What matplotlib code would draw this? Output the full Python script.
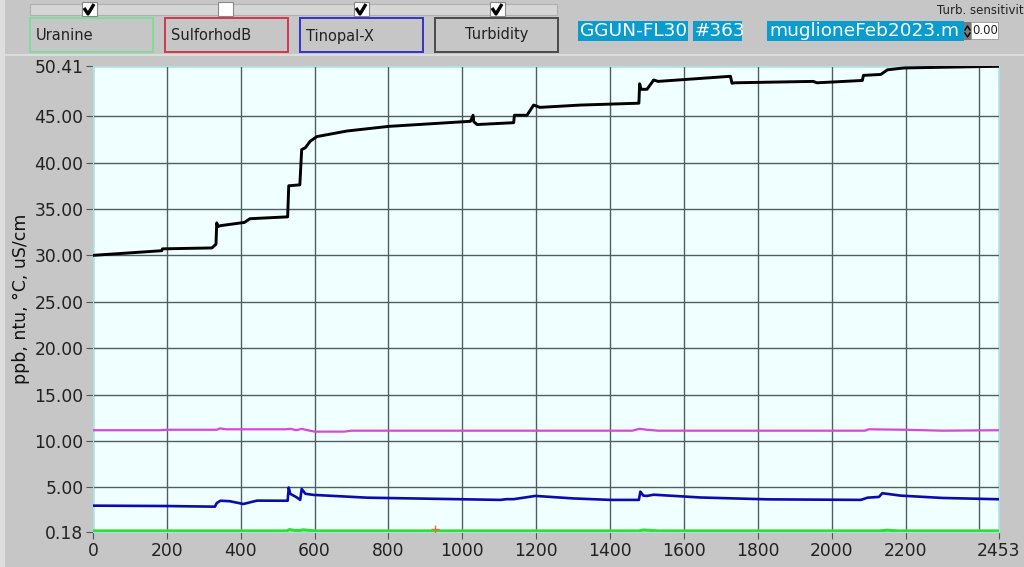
import matplotlib
matplotlib.use("Agg")
import matplotlib.pyplot as plt
from matplotlib.patches import Rectangle

# data
cond_x = [0, 186, 188, 322, 333, 335, 338, 345, 410, 425, 527, 530, 560, 565, 575, 588, 606,
          687, 800, 1022, 1029, 1031, 1040, 1139, 1141, 1175, 1193, 1210, 1320, 1478, 1480,
          1484, 1500, 1518, 1530, 1726, 1730, 1738, 1950, 1960, 2083, 2086, 2133, 2151, 2196, 2453]
cond_y = [30.0, 30.5, 30.7, 30.8, 31.2, 33.5, 33.1, 33.2, 33.55, 33.95, 34.15, 37.5, 37.6,
          41.4, 41.6, 42.3, 42.8, 43.4, 43.9, 44.45, 45.1, 44.4, 44.1, 44.3, 45.1, 45.1, 46.2,
          45.95, 46.2, 46.4, 48.5, 47.9, 47.9, 48.9, 48.75, 49.3, 48.55, 48.6, 48.75, 48.6,
          48.85, 49.4, 49.5, 50.0, 50.2, 50.38]

sulfo_x = [0, 180, 200, 335, 345, 360, 520, 535, 550, 565, 575, 600, 680, 700, 1460, 1480,
           1500, 1530, 2090, 2100, 2200, 2300, 2453]
sulfo_y = [11.15, 11.15, 11.2, 11.2, 11.35, 11.25, 11.25, 11.3, 11.15, 11.3, 11.2, 11.0,
           11.0, 11.1, 11.1, 11.3, 11.2, 11.1, 11.1, 11.25, 11.2, 11.1, 11.15]

tino_x = [0, 200, 330, 335, 345, 370, 407, 444, 527, 530, 534, 550, 561, 565, 575, 597, 742,
          1103, 1120, 1139, 1198, 1300, 1401, 1478, 1482, 1490, 1500, 1518, 1645, 1826, 2079,
          2097, 2128, 2137, 2187, 2300, 2453]
tino_y = [3.02, 2.98, 2.91, 3.3, 3.55, 3.5, 3.2, 3.56, 3.55, 4.97, 4.3, 3.95, 3.64, 4.82, 4.3,
          4.18, 3.88, 3.64, 3.72, 3.72, 4.07, 3.8, 3.64, 3.64, 4.53, 4.1, 4.07, 4.2, 3.9, 3.7,
          3.64, 3.88, 3.96, 4.36, 4.1, 3.85, 3.71]

uran_x = [0, 525, 532, 545, 560, 568, 600, 1478, 1490, 1530, 2130, 2150, 2180, 2453]
uran_y = [0.3, 0.3, 0.45, 0.35, 0.33, 0.42, 0.3, 0.3, 0.4, 0.3, 0.3, 0.38, 0.3, 0.3]

turb_x = [927]
turb_y = [0.45]

yticks = [0.18, 5, 10, 15, 20, 25, 30, 35, 40, 45, 50.41]
xticks = [0, 200, 400, 600, 800, 1000, 1200, 1400, 1600, 1800, 2000, 2200, 2453]
x_max = 2453

buttons = ["Uranine", "SulforhodB", "Tinopal-X", "Turbidity"]
button_edges = ["#7fdc9c", "#d0394f", "#3434c8", "#4a4a4a"]
checked = [True, False, True, True]

bg_col = "#c6c6c6"
fig = plt.figure(figsize=(10.24, 5.67), dpi=100, facecolor=bg_col)

# widget layer in pixel coordinates
bg = fig.add_axes([0, 0, 1, 1])
bg.set_xlim(0, 1024)
bg.set_ylim(567, 0)
bg.axis("off")
bg.add_patch(Rectangle((0, 0), 5, 567, color="#dedede", lw=0))
bg.plot([5, 1024], [55, 55], color="#dcdcdc", lw=1.5)
bg.add_patch(Rectangle((30, 4), 527, 11, facecolor="#d6d6d6", edgecolor="#b0b0b0", lw=0.8))

for i, name in enumerate(buttons):
    x0 = 30 + i * 135
    bg.add_patch(Rectangle((x0, 18), 123, 34, facecolor=bg_col, edgecolor=button_edges[i], lw=1.4))
    if i == 3:
        bg.text(x0 + 61.5, 34, name, ha="center", va="center", fontsize=10.5, color="#222222")
    else:
        bg.text(x0 + 6, 36, name, ha="left", va="center", fontsize=10.5, color="#222222")
    cx = 89 + i * 136
    bg.add_patch(Rectangle((cx - 7, 2), 15, 14, facecolor="white", edgecolor="#888888", lw=0.8))
    if checked[i]:
        bg.plot([cx - 5, cx - 1, cx + 5], [8, 14, 4], color="black", lw=2.4, solid_capstyle="butt")

lab_col = "#0a9bcf"
for x0, w, txt in [(578, 110, "GGUN-FL30"), (693, 49, "#363"), (767, 197, "muglioneFeb2023.m")]:
    bg.add_patch(Rectangle((x0, 21), w, 20, color=lab_col, lw=0))
    bg.text(x0 + 2, 31.5, txt, ha="left", va="center", fontsize=13.3, color="white")
bg.add_patch(Rectangle((964, 22), 7, 18, color="#7a7a7a", lw=0))
bg.plot([965, 967.5, 970], [30, 26, 30], color="black", lw=1)
bg.plot([965, 967.5, 970], [33, 37, 33], color="black", lw=1)
bg.add_patch(Rectangle((971, 22), 27, 17, facecolor="white", edgecolor="#999999", lw=0.6))
bg.text(972, 31, "0.00", ha="left", va="center", fontsize=8.5, color="#222222")
bg.text(1024, 10, "Turb. sensitivit", ha="right", va="center", fontsize=8.5, color="#222222")

# main plot
ax = fig.add_axes([93 / 1024, 35 / 567, 906 / 1024, 466 / 567])
ax.set_facecolor("#f0ffff")
ax.plot(cond_x, cond_y, color="black", lw=2.1, zorder=5)
ax.plot(sulfo_x, sulfo_y, color="#dd44dd", lw=1.6, zorder=4)
ax.plot(tino_x, tino_y, color="#0a0ab0", lw=1.9, zorder=4)
ax.plot(uran_x, uran_y, color="#30e030", lw=2.2, zorder=4)
ax.plot(turb_x, turb_y, marker="+", color="#e07030", ms=6, mew=1, ls="none", zorder=6)

ax.set_xlim(0, x_max)
ax.set_ylim(yticks[0], yticks[-1])
ax.set_xticks(xticks)
ax.set_yticks(yticks)
ax.set_yticklabels(["%.2f" % v for v in yticks])
ax.tick_params(direction="out", length=5, color="#555555", labelsize=12.3, labelcolor="#222222", pad=2)
ax.grid(True, color="#4f5f5f", lw=1)
ax.axvline(2400, color="#4f5f5f", lw=1, zorder=1)
for s in ax.spines.values():
    s.set_color("#a0e8e8")
ax.set_ylabel("ppb, ntu, °C, uS/cm", fontsize=12.5, color="#111111", labelpad=3)

fig.savefig("out.png", dpi=100, facecolor=bg_col)
